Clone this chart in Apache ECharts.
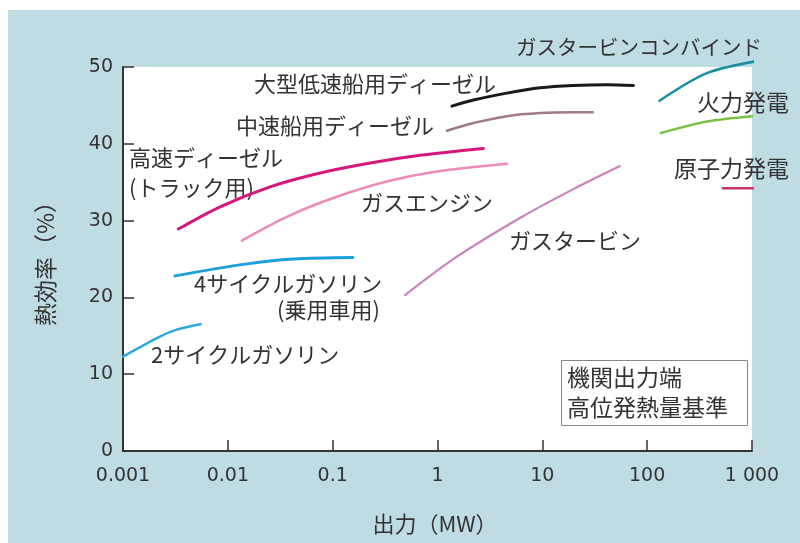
<!DOCTYPE html>
<html><head><meta charset="utf-8">
<script src="https://cdn.jsdelivr.net/npm/echarts@6/dist/echarts.min.js"></script>
<style>
html,body{margin:0;padding:0;background:#fff;}
#panel{position:absolute;left:8px;top:10px;right:0;bottom:0;background:#bedce2;}
#chart{position:absolute;left:0;top:0;width:800px;height:543px;}
</style></head><body>
<div id="panel"></div>
<div id="chart"></div>
<script>
// Output (MW, log scale) against thermal efficiency (%)
const xTickLabels = ['0.001', '0.01', '0.1', '1', '10', '100', '1 000'];
const yTickValues = [0, 10, 20, 30, 40, 50];

const slowDieselMW = [1.37, 2.2, 4.58, 9.53, 19.8, 41.2, 74];
const slowDieselEff = [44.9, 45.7, 46.6, 47.3, 47.6, 47.7, 47.6];
const mediumDieselMW = [1.23, 2.2, 4.58, 9.53, 19.8, 30.3];
const mediumDieselEff = [41.7, 42.7, 43.6, 44.0, 44.1, 44.1];
const truckDieselMW = [0.00337, 0.00843, 0.0253, 0.0759, 0.228, 0.682, 2.74];
const truckDieselEff = [28.9, 31.8, 34.4, 36.2, 37.5, 38.5, 39.4];
const gasEngineMW = [0.0136, 0.0365, 0.109, 0.328, 0.984, 4.58];
const gasEngineEff = [27.4, 30.5, 33.1, 35.1, 36.4, 37.4];
const gasTurbineMW = [0.49, 1.53, 6.6, 19.8, 55];
const gasTurbineEff = [20.3, 25.3, 30.6, 34.1, 37.1];
const fourStrokeMW = [0.00313, 0.0141, 0.0422, 0.156];
const fourStrokeEff = [22.8, 24.3, 25.0, 25.2];
const twoStrokeMW = [0.001, 0.00225, 0.00325, 0.0055];
const twoStrokeEff = [12.3, 14.9, 15.8, 16.5];
const combinedCycleMW = [131, 371, 1150];
const combinedCycleEff = [45.6, 49.2, 50.8];
const thermalPlantMW = [135, 371, 1000];
const thermalPlantEff = [41.4, 42.9, 43.6];
const nuclearPlantMW = [527, 1290];
const nuclearPlantEff = [34.2, 34.2];

const TEXT = '#333';
const JP = "'Noto Sans CJK JP', sans-serif";

function curve(name, xs, ys, color, width) {
  return {
    type: 'line', name: name,
    data: xs.map((x, i) => [x, ys[i]]),
    smooth: 0.3,
    showSymbol: false, symbol: 'none', clip: false, silent: true,
    lineStyle: { color: color, width: width, cap: 'round' }
  };
}

function label(text, x, y, size) {
  return {
    type: 'text', x: x, y: y, silent: true,
    style: { text: text, fill: TEXT, font: (size || 22) + 'px ' + JP, textVerticalAlign: 'middle' }
  };
}

const chart = echarts.init(document.getElementById('chart'), null, { renderer: 'canvas' });
chart.setOption({
  backgroundColor: 'transparent',
  animation: false,
  grid: {
    left: 123, right: 48, top: 67, bottom: 92,
    show: true, backgroundColor: '#fff', borderWidth: 0,
    containLabel: false, outerBoundsMode: 'none'
  },
  xAxis: {
    type: 'log', logBase: 10, min: 0.001, max: 1000,
    axisLine: { lineStyle: { color: TEXT, width: 2 } },
    axisTick: { inside: true, length: 11, lineStyle: { color: TEXT, width: 1.5 } },
    minorTick: { show: false },
    splitLine: { show: false },
    axisLabel: {
      margin: 16, color: TEXT, fontSize: 19, fontFamily: 'DejaVu Sans',
      formatter: v => xTickLabels[Math.round(Math.log10(v)) + 3]
    }
  },
  yAxis: {
    type: 'value', min: yTickValues[0], max: yTickValues[yTickValues.length - 1], interval: 10,
    axisLine: { show: true, lineStyle: { color: TEXT, width: 2 } },
    axisTick: { show: true, inside: true, length: 11, lineStyle: { color: TEXT, width: 1.5 } },
    splitLine: { show: false },
    axisLabel: { margin: 10, color: TEXT, fontSize: 19, fontFamily: 'DejaVu Sans' }
  },
  series: [
    curve('大型低速船用ディーゼル', slowDieselMW, slowDieselEff, '#1a1a1a', 3),
    curve('中速船用ディーゼル', mediumDieselMW, mediumDieselEff, '#a07a88', 2.5),
    curve('高速ディーゼル', truckDieselMW, truckDieselEff, '#d6177b', 3),
    curve('ガスエンジン', gasEngineMW, gasEngineEff, '#ec8ab8', 2.5),
    curve('ガスタービン', gasTurbineMW, gasTurbineEff, '#c884bd', 2.2),
    curve('4サイクルガソリン', fourStrokeMW, fourStrokeEff, '#1ea0dc', 3),
    curve('2サイクルガソリン', twoStrokeMW, twoStrokeEff, '#29a9e1', 2.5),
    curve('ガスタービンコンバインド', combinedCycleMW, combinedCycleEff, '#1b8ea0', 2.5),
    curve('火力発電', thermalPlantMW, thermalPlantEff, '#7cc24a', 2.5),
    curve('原子力発電', nuclearPlantMW, nuclearPlantEff, '#c8336e', 2.5)
  ],
  graphic: [
    label('ガスタービンコンバインド', 516, 47, 20.5),
    label('大型低速船用ディーゼル', 254, 84),
    label('中速船用ディーゼル', 236, 126),
    label('高速ディーゼル', 129, 158),
    label('(トラック用)', 129, 188),
    label('ガスエンジン', 361, 203),
    label('ガスタービン', 509, 241),
    label('火力発電', 697, 102, 23),
    label('原子力発電', 674, 168, 23),
    label('4サイクルガソリン', 194, 284),
    label('(乗用車用)', 277, 310),
    label('2サイクルガソリン', 151, 355),
    {
      type: 'rect', silent: true,
      shape: { x: 561.5, y: 360.5, width: 186, height: 65 },
      style: { fill: '#fff', stroke: '#888', lineWidth: 1 }
    },
    label('機関出力端', 567, 377, 23),
    label('高位発熱量基準', 567, 407, 23),
    {
      type: 'text', x: 45, y: 258, rotation: Math.PI / 2, silent: true,
      style: { text: '熱効率（%）', fill: TEXT, font: '23px ' + JP, textAlign: 'center', textVerticalAlign: 'middle' }
    },
    {
      type: 'text', x: 435, y: 524, silent: true,
      style: { text: '出力（MW）', fill: TEXT, font: '22px ' + JP, textAlign: 'center', textVerticalAlign: 'middle' }
    }
  ]
});
</script>
</body></html>
